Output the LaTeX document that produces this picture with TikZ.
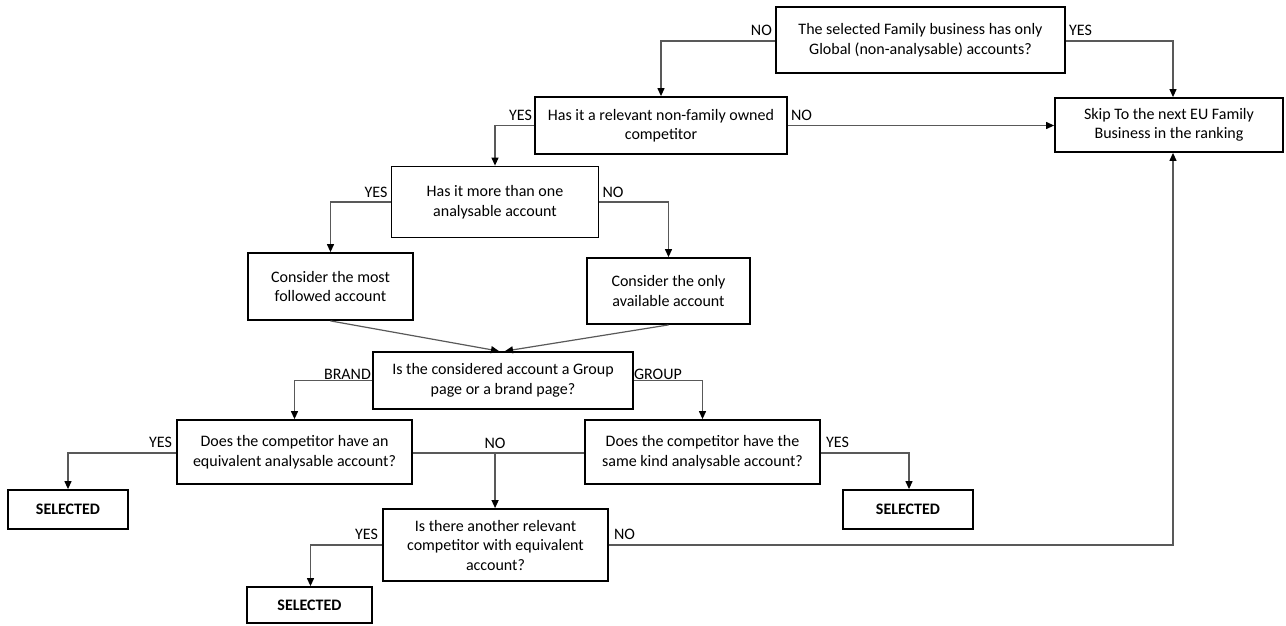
\documentclass[tikz,border=0pt]{standalone}
\usepackage{fontspec}
\setmainfont{Carlito}
\usetikzlibrary{arrows.meta,calc}
\begin{document}
\begin{tikzpicture}[x=1pt,y=-1pt,
  box/.style={draw=black,line width=1.8pt,align=center,inner sep=0pt,font=\fontsize{16}{19.5}\selectfont},
  sel/.style={box,font=\fontsize{16}{19.5}\selectfont\bfseries},
  conn/.style={draw=black!65,line width=1.2pt},
  arr/.style={conn,-{Triangle[length=8pt,width=7pt,color=black]}},
  lbl/.style={font=\fontsize{16}{19.5}\selectfont,inner sep=0pt}]
\useasboundingbox (0,0) rectangle (1286,625);

% boxes
\node[box,minimum width=289pt,minimum height=66pt] (A) at (920.5,40) {The selected Family business has only\\Global (non-analysable) accounts?};
\node[box,minimum width=252pt,minimum height=57pt] (B) at (661,125.5) {Has it a relevant non-family owned\\competitor};
\node[box,minimum width=228pt,minimum height=54pt] (K) at (1169,125) {Skip To the next EU Family\\Business in the ranking};
\node[box,minimum width=207pt,minimum height=71pt] (C) at (495,202) {Has it more than one\\analysable account};
\node[box,minimum width=165pt,minimum height=67pt] (D) at (330.5,286.5) {Consider the most\\followed account};
\node[box,minimum width=163pt,minimum height=66pt] (E) at (668.5,291) {Consider the only\\available account};
\node[box,minimum width=260pt,minimum height=57pt] (F) at (503,380.5) {Is the considered account a Group\\page or a brand page?};
\node[box,minimum width=235pt,minimum height=64pt] (G) at (294.5,452) {Does the competitor have an\\equivalent analysable account?};
\node[box,minimum width=235pt,minimum height=64pt] (H) at (702.5,452) {Does the competitor have the\\same kind analysable account?};
\node[sel,minimum width=120pt,minimum height=39pt] (S1) at (68,509.5) {SELECTED};
\node[sel,minimum width=130pt,minimum height=39pt] (S2) at (908,509.5) {SELECTED};
\node[box,minimum width=225pt,minimum height=72pt] (I) at (495.5,545) {Is there another relevant\\competitor with equivalent\\account?};
\node[sel,minimum width=125pt,minimum height=36pt] (S3) at (309.5,605) {SELECTED};

% connectors
\draw[arr] ([yshift=-1pt]A.west) -| (B.north);
\draw[arr] ([yshift=-1pt]A.east) -| ([xshift=4pt]K.north);
\draw[arr] (B.west) -| (C.north);
\draw[arr] (B.east) -- (B.east -| K.west);
\draw[arr] (C.west) -| (D.north);
\draw[arr] (C.east) -| (E.north);
\draw[arr] (D.south) -- ([xshift=-4pt]F.north);
\draw[arr] (E.south) -- ([xshift=2pt]F.north);
\draw[arr] (F.west) -| (G.north);
\draw[arr] (F.east) -| (H.north);
\draw[arr] ([yshift=-1pt]G.west) -| (S1.north);
\draw[conn] ([yshift=-1pt]G.east) -- ([yshift=-1pt]H.west);
\coordinate (m) at ($([yshift=-1pt]G.east)!0.48!([yshift=-1pt]H.west)$);
\draw[arr] (m) -- (m |- I.north);
\draw[arr] ([yshift=-1pt]H.east) -| ([xshift=1pt]S2.north);
\draw[arr] (I.west) -| ([xshift=1pt]S3.north);
\draw[arr] (I.east) -| ([xshift=4pt]K.south);

% labels
\node[lbl,anchor=base east] (l1) at ([xshift=-3pt,yshift=5pt]A.west) {NO};
\node[lbl,anchor=base west] (l2) at ([xshift=3pt,yshift=5pt]A.east) {YES};
\node[lbl,anchor=base east] (l3) at ([xshift=-2pt,yshift=5pt]B.west) {YES};
\node[lbl,anchor=base west] (l4) at ([xshift=3pt,yshift=5pt]B.east) {NO};
\node[lbl,anchor=base east] (l5) at ([xshift=-3pt,yshift=5pt]C.west) {YES};
\node[lbl,anchor=base west] (l6) at ([xshift=3pt,yshift=5pt]C.east) {NO};
\node[lbl,anchor=base east] (l7) at ([xshift=-1pt,yshift=1pt]F.west) {BRAND};
\node[lbl,anchor=base west] (l8) at ([xshift=0pt,yshift=1pt]F.east) {GROUP};
\node[lbl,anchor=base east] (l9) at ([xshift=-4pt,yshift=5pt]G.west) {YES};
\node[lbl,anchor=base] (l10) at ([yshift=5pt]m) {NO};
\node[lbl,anchor=base west] (l11) at ([xshift=5pt,yshift=5pt]H.east) {YES};
\node[lbl,anchor=base east] (l12) at ([xshift=-4pt,yshift=6pt]I.west) {YES};
\node[lbl,anchor=base west] (l13) at ([xshift=5pt,yshift=6pt]I.east) {NO};
\end{tikzpicture}
\end{document}
